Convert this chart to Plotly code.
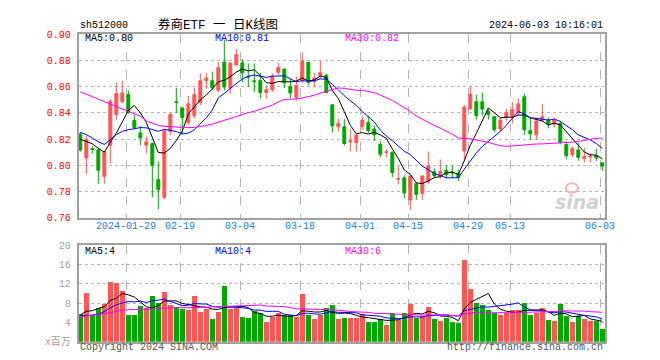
import plotly.graph_objects as go

# ---------------- data ----------------
opens = [0.824, 0.8057, 0.8128, 0.8118, 0.7917, 0.8155, 0.8388, 0.8486, 0.854, 0.8344,
         0.8248, 0.8155, 0.8167, 0.7892, 0.7757, 0.826, 0.8485, 0.8438, 0.8325, 0.838,
         0.848, 0.8646, 0.8646, 0.8573, 0.8787, 0.859, 0.8766, 0.8783, 0.868, 0.8645,
         0.8646, 0.8556, 0.8578, 0.871, 0.8735, 0.8602, 0.8519, 0.8646, 0.8786, 0.8641,
         0.8683, 0.8688, 0.8462, 0.8295, 0.8295, 0.818, 0.8175, 0.8297, 0.8327, 0.8278,
         0.816, 0.8099, 0.8101, 0.7895, 0.7905, 0.7737, 0.786, 0.7786, 0.7875, 0.7953,
         0.7922, 0.7963, 0.795, 0.7938, 0.811, 0.843, 0.8486, 0.8486, 0.8413, 0.8371,
         0.8278, 0.8364, 0.8371, 0.840, 0.8523, 0.8265, 0.8233, 0.8346, 0.8346, 0.8315,
         0.832, 0.816, 0.8081, 0.8118, 0.8052, 0.8065, 0.8074, 0.802]
highs = [0.8255, 0.8225, 0.8148, 0.8135, 0.811, 0.8505, 0.8634, 0.8646, 0.8573, 0.8385,
         0.830, 0.822, 0.8175, 0.8032, 0.827, 0.840, 0.8592, 0.8445, 0.853, 0.859,
         0.870, 0.8707, 0.8715, 0.879, 0.8955, 0.879, 0.889, 0.881, 0.8777, 0.8777,
         0.8707, 0.861, 0.8703, 0.8783, 0.874, 0.866, 0.868, 0.886, 0.879, 0.8707,
         0.8795, 0.870, 0.8465, 0.8359, 0.8353, 0.8278, 0.8235, 0.8376, 0.8381, 0.8305,
         0.8184, 0.8125, 0.8106, 0.7995, 0.7925, 0.7925, 0.787, 0.7925, 0.8106, 0.7978,
         0.8045, 0.800, 0.800, 0.797, 0.846, 0.8605, 0.854, 0.8555, 0.8433, 0.8376,
         0.8366, 0.8435, 0.8485, 0.851, 0.8548, 0.8361, 0.8366, 0.847, 0.8366, 0.8366,
         0.834, 0.8184, 0.8145, 0.8174, 0.8135, 0.8096, 0.8128, 0.8022]
lows = [0.8105, 0.7934, 0.8088, 0.786, 0.786, 0.8015, 0.835, 0.8475, 0.8395, 0.8275,
        0.8155, 0.8093, 0.7757, 0.7668, 0.7743, 0.8228, 0.840, 0.824, 0.831, 0.836,
        0.846, 0.8585, 0.8575, 0.856, 0.857, 0.855, 0.876, 0.8634, 0.8597, 0.8558,
        0.851, 0.851, 0.856, 0.869, 0.859, 0.851, 0.8494, 0.863, 0.8612, 0.8597,
        0.866, 0.855, 0.825, 0.8258, 0.8153, 0.8106, 0.8106, 0.827, 0.825, 0.8187,
        0.8061, 0.806, 0.791, 0.7855, 0.775, 0.7661, 0.7738, 0.7737, 0.786, 0.7903,
        0.790, 0.7903, 0.7903, 0.788, 0.803, 0.8425, 0.835, 0.838, 0.835, 0.8253,
        0.826, 0.834, 0.8318, 0.838, 0.8233, 0.8196, 0.8196, 0.833, 0.8283, 0.829,
        0.816, 0.8047, 0.806, 0.8037, 0.8022, 0.8022, 0.8032, 0.7959]
closes = [0.8118, 0.820, 0.8122, 0.7963, 0.8106, 0.849, 0.8548, 0.8553, 0.8405, 0.829,
          0.8211, 0.818, 0.800, 0.7816, 0.8265, 0.8388, 0.848, 0.8364, 0.847, 0.854,
          0.8646, 0.8666, 0.8592, 0.8745, 0.8598, 0.878, 0.8845, 0.8707, 0.8675, 0.8639,
          0.8556, 0.8578, 0.868, 0.8745, 0.863, 0.8553, 0.861, 0.8794, 0.8634, 0.8666,
          0.8707, 0.8556, 0.8302, 0.832, 0.8167, 0.8187, 0.8233, 0.8346, 0.8265, 0.8233,
          0.8086, 0.8104, 0.7946, 0.7899, 0.7791, 0.792, 0.778, 0.792, 0.7998, 0.7922,
          0.7953, 0.793, 0.7944, 0.7909, 0.8445, 0.8543, 0.8381, 0.843, 0.8388, 0.8273,
          0.8346, 0.8405, 0.8425, 0.847, 0.8273, 0.8241, 0.8339, 0.8371, 0.8315, 0.8346,
          0.8175, 0.8076, 0.813, 0.8062, 0.8069, 0.807, 0.8057, 0.7995]
volumes = [5.8, 10.0, 5.5, 7.0, 7.8, 12.4, 12.2, 10.4, 5.6, 5.6,
           7.4, 7.0, 9.4, 8.0, 10.2, 7.5, 7.1, 6.7, 6.5, 9.5,
           6.2, 6.8, 4.7, 6.2, 11.5, 6.8, 7.0, 5.1, 4.9, 6.3,
           6.0, 4.0, 5.1, 6.0, 5.5, 5.5, 5.1, 9.9, 5.5, 4.7,
           5.5, 6.9, 7.5, 4.7, 5.0, 5.0, 5.0, 5.8, 4.0, 4.0,
           4.7, 3.5, 6.0, 4.5, 6.0, 7.8, 5.0, 5.3, 7.2, 4.7,
           4.3, 4.8, 4.1, 3.8, 16.8, 11.0, 8.0, 7.5, 6.5, 6.0,
           5.5, 6.0, 6.5, 6.5, 8.0, 5.5, 6.0, 7.0, 4.5, 4.2,
           7.8, 5.3, 4.0, 5.3, 4.7, 4.2, 4.2, 2.7]

# moving-average values before enough in-window history exists
ma5_head = [0.820, 0.818, 0.8165, 0.813]
ma10_head = [0.8253, 0.8235, 0.821, 0.818, 0.816, 0.8195, 0.8235, 0.826, 0.8273]
ma30_head = [0.856, 0.8545, 0.8525, 0.8505, 0.8487, 0.847, 0.845, 0.8432, 0.8415, 0.8395,
             0.8375, 0.834, 0.832, 0.8305, 0.8298, 0.8295, 0.829, 0.8288, 0.8288, 0.829,
             0.8295, 0.8305, 0.8315, 0.833, 0.8345, 0.836, 0.8375, 0.839, 0.8402]
vma5_head = [5.5, 6.3, 6.4, 6.9]
vma10_head = [5.35, 5.4, 5.5, 5.7, 6.2, 7.0, 7.6, 8.0, 8.3]
vma30_head = [5.15, 5.3, 5.4, 5.5, 5.8, 6.0, 6.3, 6.5, 6.6, 6.6,
              6.65, 6.7, 6.75, 6.9, 7.0, 7.0, 7.0, 7.0, 7.0, 7.05,
              7.1, 7.1, 7.2, 7.25, 7.3, 7.4, 7.45, 7.5, 7.5]

tick_idx = [8, 17, 27, 37, 47, 55, 65, 72, 87]
tick_text = ["2024-01-29", "02-19", "03-04", "03-18", "04-01", "04-15", "04-29", "05-13", "06-03"]
price_ticks = [0.76, 0.78, 0.80, 0.82, 0.84, 0.86, 0.88, 0.90]
vol_ticks = [0, 4, 8, 12, 16, 20]
vol_tick_text = ["x百万", "4", "8", "12", "16", "20"]
price_ma_text = ["MA5:0.80", "MA10:0.81", "MA30:0.82"]
vol_ma_text = ["MA5:4", "MA10:4", "MA30:6"]
symbol = "sh512000"
title = "券商ETF 一 日K线图"
stamp = "2024-06-03 10:16:01"


def rolling(vals, n, head):
    out = list(head)
    for i in range(len(head), len(vals)):
        out.append(sum(vals[i - n + 1:i + 1]) / n)
    return out


RED = "#ff5555"
GREEN = "#00a800"
MA_COLORS = ["#000000", "#0000ff", "#ff00ff"]
FRAME = "#a0a0a0"
GRID = "#b4b4b4"
MONO = "Liberation Mono, DejaVu Sans Mono, monospace"

W, H = 660, 360
PL, PR = 70.7, 597.0
P_TOP, P_BOT = 22.0, 212.0
V_TOP, V_BOT = 240.0, 340.0

x = list(range(len(closes)))
n = len(closes)

ma_price = [rolling(closes, 5, ma5_head), rolling(closes, 10, ma10_head), rolling(closes, 30, ma30_head)]
ma_vol = [rolling(volumes, 5, vma5_head), rolling(volumes, 10, vma10_head), rolling(volumes, 30, vma30_head)]

fig = go.Figure()

fig.add_trace(go.Candlestick(
    x=x, open=opens, high=highs, low=lows, close=closes,
    increasing=dict(line=dict(color=RED, width=1), fillcolor=RED),
    decreasing=dict(line=dict(color=GREEN, width=1), fillcolor=GREEN),
    whiskerwidth=0, xaxis="x", yaxis="y", hoverinfo="skip"))

for vals, col in zip(ma_price, MA_COLORS):
    fig.add_trace(go.Scatter(x=x, y=vals, mode="lines", line=dict(color=col, width=1),
                             xaxis="x", yaxis="y", hoverinfo="skip"))

vol_colors = [RED if c > o else GREEN for o, c in zip(opens, closes)]
fig.add_trace(go.Bar(x=x, y=volumes, marker=dict(color=vol_colors, line=dict(width=0)),
                     width=0.83, xaxis="x2", yaxis="y2", hoverinfo="skip"))

for vals, col in zip(ma_vol, MA_COLORS):
    fig.add_trace(go.Scatter(x=x, y=vals, mode="lines", line=dict(color=col, width=1),
                             xaxis="x2", yaxis="y2", hoverinfo="skip"))

xr = [-0.27, n - 1 + 0.45]
xdom = [PL / W, PR / W]
grid_x = [t - 0.33 for t in tick_idx]

common_x = dict(domain=xdom, range=xr, tickmode="array", tickvals=grid_x,
                showgrid=True, gridcolor=GRID, gridwidth=1, griddash="dash",
                showline=True, mirror=True, linecolor=FRAME, linewidth=2,
                zeroline=False, ticks="", fixedrange=True, showticklabels=False)
common_y = dict(showgrid=True, gridcolor=GRID, gridwidth=1, griddash="dot",
                showline=True, mirror=True, linecolor=FRAME, linewidth=2,
                zeroline=False, ticks="", tickmode="array", fixedrange=True,
                ticklabelstandoff=4)

fig.update_layout(
    width=W, height=H, margin=dict(l=0, r=0, t=0, b=0),
    paper_bgcolor="white", plot_bgcolor="white", showlegend=False,
    bargap=0,
    xaxis=dict(**common_x, anchor="y", rangeslider=dict(visible=False)),
    yaxis=dict(**common_y, domain=[1 - P_BOT / H, 1 - P_TOP / H], range=[0.76, 0.90],
               tickvals=price_ticks, tickformat=".2f", anchor="x",
               tickfont=dict(family=MONO, size=10, color="#ff0000")),
    xaxis2=dict(**common_x, anchor="y2"),
    yaxis2=dict(**common_y, domain=[1 - V_BOT / H, 1 - V_TOP / H], range=[0, 20],
                tickvals=vol_ticks, ticktext=vol_tick_text, anchor="x2",
                tickfont=dict(family=MONO + ", Noto Sans CJK SC", size=10, color="#a0a0a0")),
)


def txt(s, px, py, anchor="left", color="#000000", size=10, family=MONO, **kw):
    fig.add_annotation(text=s, x=px / W, y=1 - py / H, xref="paper", yref="paper",
                       xanchor=anchor, yanchor="middle", showarrow=False,
                       font=dict(family=family, size=size, color=color, **kw))


# date labels under the price panel, placed on the axis positions
for gx, s in zip(grid_x, tick_text):
    fig.add_annotation(text=s, x=gx, xref="x", y=1 - 221 / H, yref="paper",
                       xanchor="center", yanchor="middle", showarrow=False,
                       font=dict(family=MONO, size=10, color="#1a82d6"))

txt(symbol, 70, 13)
txt(title, 210, 12.5, anchor="center", size=12.5, family="Liberation Mono, Noto Sans CJK SC")
txt(stamp, 597, 13, anchor="right")

for s, px, col in zip(price_ma_text, [75, 205, 335], MA_COLORS):
    txt(s, px, 26.5, color=col)
for s, px, col in zip(vol_ma_text, [75, 205, 335], MA_COLORS):
    txt(s, px, 246.5, color=col)

txt("Copyright 2024 SINA.COM", 69.5, 346.5, color="#555555")
txt("http://finance.sina.com.cn", 597, 346.5, anchor="right", color="#555555")

# sina watermark
txt("sina", 569, 196, anchor="center", color="#d2d2d2", size=19,
    family="DejaVu Sans", weight="bold", style="italic")
fig.add_shape(type="circle", xref="paper", yref="paper",
              x0=558 / W, x1=570 / W, y0=1 - 186 / H, y1=1 - 176 / H,
              line=dict(color="#f2b8b8", width=2), fillcolor="rgba(0,0,0,0)")

fig.write_html("out.html")
